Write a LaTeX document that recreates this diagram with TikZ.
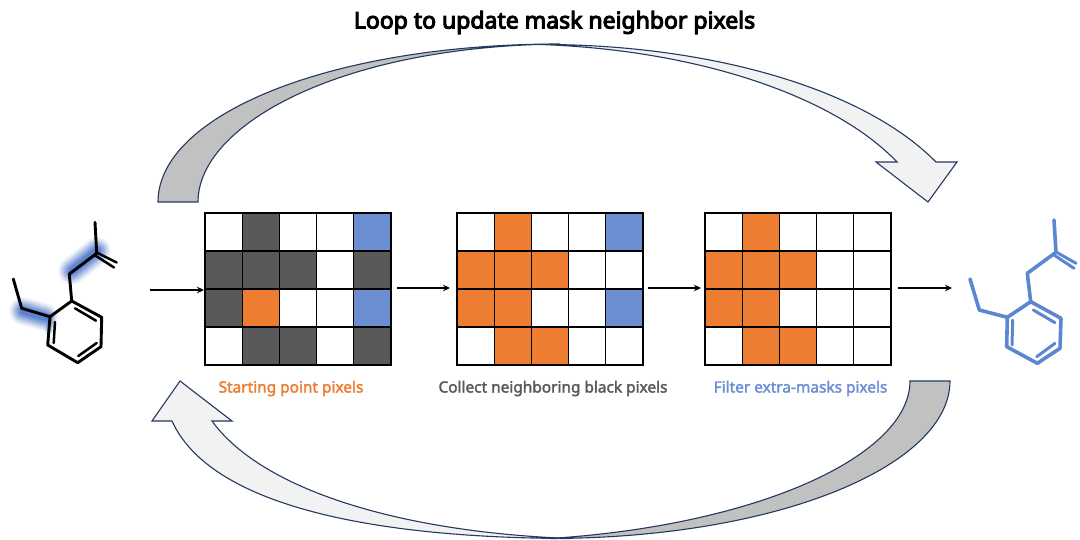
\documentclass[tikz,border=0pt]{standalone}
\usepackage{fontspec}
\setmainfont{Noto Sans}
\newfontfamily\labelfont[FakeBold=2.2]{Noto Sans}
\newfontfamily\titlefont[FakeBold=4.5]{Noto Sans}
\definecolor{cDark}{HTML}{595959}
\definecolor{cOrange}{HTML}{ED7D31}
\definecolor{cBlue}{HTML}{6C8FD4}
\definecolor{cBandDark}{HTML}{C1C1C1}
\definecolor{cBandLight}{HTML}{F2F2F2}
\definecolor{cEdge}{HTML}{24395F}
\definecolor{cGlow}{HTML}{2F5FC4}
\definecolor{cMol}{HTML}{5B86D2}
\usetikzlibrary{arrows.meta}
\tikzset{
  band/.style={draw=cEdge,line width=1.1pt,line join=miter},
  flowarrow/.style={draw=black,line width=1.2pt,-{Stealth[length=7pt,width=6.5pt]}},
  gridbox/.style={draw=black,line width=1.2pt,minimum width=186pt,minimum height=152pt,inner sep=0pt,outer sep=0pt},
  caption/.style={font=\labelfont\fontsize{15.4}{18}\selectfont,inner sep=0pt},
  bond/.style={line width=2.9pt,line cap=round,line join=round},
  bondthin/.style={line width=2.5pt,line cap=round},
  rbond/.style={cMol,line width=3.6pt,line cap=round,line join=round},
  rbondthin/.style={cMol,line width=3pt,line cap=round},
}
\newcommand{\gridcells}[3]{%
  \foreach \cc/\rr/\kk in {#3}{
    \fill[\kk] ({#1+\cc*37.1},{#2+\rr*38}) rectangle ++(37.1,38);
  }
  \foreach \cc in {1,2,3,4}{\draw[black,line width=1.1pt] ({#1+\cc*37.1},#2) -- ++(0,152);}
  \foreach \rr in {1,2,3}{\draw[black,line width=1.1pt] (#1,{#2+\rr*38}) -- ++(185.5,0);}
}
\begin{document}
\begin{tikzpicture}[x=1pt,y=-1pt]
\useasboundingbox (0,0) rectangle (1080,540);
\fill[white] (0,0) rectangle (1080,540);

% title
\node[font=\fontsize{23}{27}\selectfont\titlefont,inner sep=0pt] (title) at (554.5,22.5) {Loop to update mask neighbor pixels};

% top loop arrow
\fill[cBandLight,band] (540,44.5) .. controls (700,44) and (860,85) .. (936,162) -- (957,162) -- (928,202) -- (876,162) -- (897,162) .. controls (835,97) and (700,50) .. (540,44.5) -- cycle;
\fill[cBandDark,band] (158,202) .. controls (158,115) and (330,44) .. (560,44) .. controls (340,46) and (198,125) .. (198,202) -- cycle;

% bottom loop arrow
\fill[cBandLight,band] (570,538.5) .. controls (370,538) and (210,505) .. (172,421) -- (152,421) -- (180,381) -- (232,421) -- (212,421) .. controls (262,490) and (400,532) .. (570,538.5) -- cycle;
\fill[cBandDark,band] (950,381) .. controls (950,465) and (780,538) .. (550,538.5) .. controls (760,525) and (910,455) .. (910,381) -- cycle;

% grids
\gridcells{205}{213}{1/0/cDark,4/0/cBlue,0/1/cDark,1/1/cDark,2/1/cDark,4/1/cDark,0/2/cDark,1/2/cOrange,4/2/cBlue,1/3/cDark,2/3/cDark,4/3/cDark}
\gridcells{457}{213}{1/0/cOrange,4/0/cBlue,0/1/cOrange,1/1/cOrange,2/1/cOrange,0/2/cOrange,1/2/cOrange,4/2/cBlue,1/3/cOrange,2/3/cOrange}
\gridcells{705}{213}{1/0/cOrange,0/1/cOrange,1/1/cOrange,2/1/cOrange,0/2/cOrange,1/2/cOrange,1/3/cOrange,2/3/cOrange}
\node[gridbox,anchor=north west] (g1) at (205,213) {};
\node[gridbox,anchor=north west] (g2) at (457,213) {};
\node[gridbox,anchor=north west] (g3) at (705,213) {};

% captions
\node[caption,text=cOrange] (c1) at (291,388.5) {Starting point pixels};
\node[caption,text=cDark] (c2) at (553,388.5) {Collect neighboring black pixels};
\node[caption,text=cBlue] (c3) at (800.5,388.5) {Filter extra-masks pixels};

% flow arrows
\coordinate (a0s) at (150,290); \coordinate (a0e) at (204,290);
\coordinate (a1s) at (397,288); \coordinate (a1e) at (450,288);
\coordinate (a2s) at (648,288); \coordinate (a2e) at (701,288);
\coordinate (a3s) at (898,288); \coordinate (a3e) at (952,288);
\draw[flowarrow] (a0s) -- (a0e);
\draw[flowarrow] (a1s) -- (a1e);
\draw[flowarrow] (a2s) -- (a2e);
\draw[flowarrow] (a3s) -- (a3e);

% left molecule glow
\foreach \w/\op in {28/0.06,25/0.09,22/0.11,19/0.14,16/0.16,13/0.2,10/0.24,7/0.3}{
  \draw[cGlow,opacity=\op,line width=\w pt,line cap=round,line join=round] (23,311) -- (44,317);
  \draw[cGlow,opacity=\op,line width=\w pt,line cap=round,line join=round] (72,271) -- (97,251);
}
\foreach \w/\op in {10/0.10,7/0.16,4/0.22}{
  \draw[cGlow,opacity=\op,line width=\w pt,line cap=round] (50,317) -- (49,330);
}

% left molecule
\draw[black,bond] (50,316.7) -- (71.7,301) -- (101.7,317.3) -- (101,346.7) -- (77.7,362.7) -- (47.7,345) -- cycle;
\draw[black,bond] (13.3,279) -- (21.7,308.3) -- (50,316.7);
\draw[black,bond] (71.7,301) -- (69.3,274) -- (96.7,253.3) -- (95,222.3);
\draw[black,bondthin] (96.7,252.5) -- (116.7,262.5);
\draw[black,bondthin] (94.5,255) -- (114,267.5);
\draw[black,bondthin] (55,322) -- (53.7,343);
\draw[black,bondthin] (75,308.3) -- (96,320.7);
\draw[black,bondthin] (78.3,356) -- (96.7,343);

% right molecule
\draw[rbond] (1007.3,317.3) -- (1030.7,301.7) -- (1061,318.3) -- (1060,348.3) -- (1037.3,363.3) -- (1006.7,346.7) -- cycle;
\draw[rbond] (970,279) -- (979.3,310) -- (1007.3,317.3);
\draw[rbond] (1030.7,301.7) -- (1027.3,273.3) -- (1056,252.3) -- (1054,220);
\draw[rbondthin] (1056,252) -- (1076,263.3);
\draw[rbondthin] (1054,255) -- (1074,268.3);
\draw[rbondthin] (1012.7,320) -- (1012,345);
\draw[rbondthin] (1033.3,310) -- (1055,322.7);
\draw[rbondthin] (1036.7,356.7) -- (1055,343.3);
\end{tikzpicture}
\end{document}
